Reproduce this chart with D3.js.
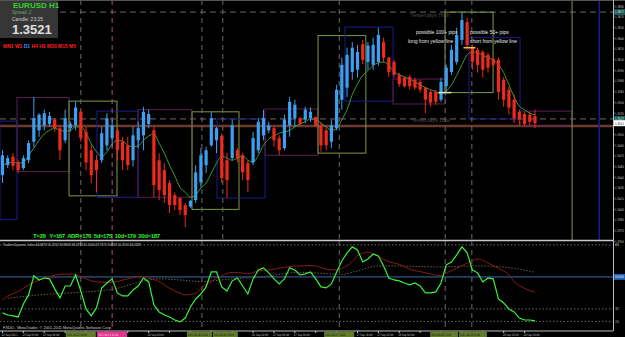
<!DOCTYPE html>
<html><head><meta charset="utf-8">
<script src="https://cdn.jsdelivr.net/npm/d3@7"></script>
<style>html,body{margin:0;padding:0;background:#000;overflow:hidden}svg{display:block}text{font-family:"Liberation Sans",Arial,sans-serif}text.n{font-family:"Liberation Sans Narrow","DejaVu Sans Condensed","Liberation Sans",sans-serif}</style>
</head><body><div id="chart"></div>
<script>
// ---------- DATA ----------
const opens=[1.3448,1.3462,1.3474,1.3466,1.3458,1.3469,1.3495,1.3511,1.3518,1.3520,
1.3526,1.3514,1.3497,1.3514,1.3518,1.3537,1.3509,1.3483,1.3469,1.3469,
1.3490,1.3500,1.3511,1.3495,1.3490,1.3469,1.3497,1.3504,1.3520,1.3511,
1.3469,1.3455,1.3437,1.3420,1.3416,1.3406,1.3404,1.3413,1.3438,1.3462,
1.3490,1.3497,1.3503,1.3469,1.3472,1.3483,1.3476,1.3465,1.3466,1.3483,
1.3504,1.3511,1.3514,1.3500,1.3486,1.3518,1.3528,1.3528,1.3526,1.3528,
1.3530,1.3518,1.3511,1.3495,1.3514,1.3554,1.3571,1.3593,1.3596,1.3632,
1.3607,1.3603,1.3607,1.3635,1.3613,1.3607,1.3589,1.3585,1.3586,1.3582,
1.3579,1.3571,1.3565,1.3565,1.3554,1.3573,1.3593,1.3607,1.3638,1.3663,
1.3627,1.3624,1.3621,1.3617,1.3611,1.3610,1.3582,1.3568,1.3554,1.3537,
1.3534,1.3533,1.3531];
const highs=[1.3483,1.3476,1.3479,1.3469,1.3476,1.3497,1.3558,1.3535,1.3540,1.3537,
1.3528,1.3518,1.3540,1.3523,1.3551,1.3540,1.3516,1.3490,1.3476,1.3516,
1.3535,1.3526,1.3514,1.3502,1.3502,1.3516,1.3523,1.3544,1.3540,1.3516,
1.3479,1.3465,1.3441,1.3424,1.3417,1.3409,1.3413,1.3462,1.3486,1.3488,
1.3537,1.3516,1.3507,1.3479,1.3526,1.3486,1.3479,1.3469,1.3509,1.3528,
1.3540,1.3523,1.3516,1.3504,1.3533,1.3558,1.3554,1.3530,1.3544,1.3543,
1.3530,1.3523,1.3518,1.3526,1.3575,1.3613,1.3627,1.3635,1.3631,1.3638,
1.3635,1.3641,1.3655,1.3641,1.3614,1.3610,1.3592,1.3586,1.3589,1.3585,
1.3582,1.3572,1.3568,1.3568,1.3585,1.3603,1.3631,1.3655,1.3676,1.3669,
1.3631,1.3627,1.3624,1.3620,1.3613,1.3613,1.3586,1.3572,1.3561,1.3540,
1.3537,1.3537,1.3540];
const lows=[1.3437,1.3458,1.3455,1.3451,1.3455,1.3465,1.3488,1.3502,1.3511,1.3516,
1.3509,1.3469,1.3493,1.3509,1.3511,1.3495,1.3455,1.3437,1.3424,1.3465,
1.3483,1.3488,1.3469,1.3455,1.3455,1.3460,1.3486,1.3483,1.3514,1.3417,
1.3413,1.3409,1.3395,1.3399,1.3392,1.3375,1.3402,1.3409,1.3431,1.3451,
1.3488,1.3479,1.3437,1.3416,1.3469,1.3466,1.3441,1.3424,1.3462,1.3479,
1.3497,1.3507,1.3488,1.3476,1.3483,1.3502,1.3516,1.3516,1.3521,1.3523,
1.3516,1.3481,1.3483,1.3486,1.3511,1.3540,1.3558,1.3582,1.3585,1.3604,
1.3596,1.3596,1.3602,1.3606,1.3586,1.3585,1.3572,1.3571,1.3568,1.3568,
1.3564,1.3535,1.3544,1.3547,1.3551,1.3565,1.3589,1.3603,1.3631,1.3624,
1.3596,1.3592,1.3585,1.3592,1.3600,1.3554,1.3544,1.3533,1.3521,1.3518,
1.3516,1.3518,1.3514];
const closes=[1.3476,1.3472,1.3461,1.3455,1.3472,1.3493,1.3528,1.3533,1.3535,1.3531,
1.3514,1.3483,1.3528,1.3520,1.3543,1.3500,1.3466,1.3448,1.3455,1.3507,
1.3528,1.3518,1.3483,1.3469,1.3462,1.3504,1.3514,1.3537,1.3534,1.3434,
1.3427,1.3420,1.3406,1.3406,1.3399,1.3392,1.3412,1.3452,1.3476,1.3483,
1.3528,1.3514,1.3444,1.3441,1.3518,1.3472,1.3452,1.3441,1.3500,1.3523,
1.3528,1.3518,1.3497,1.3483,1.3526,1.3551,1.3547,1.3520,1.3540,1.3537,
1.3518,1.3490,1.3490,1.3518,1.3568,1.3603,1.3617,1.3627,1.3621,1.3610,
1.3630,1.3631,1.3645,1.3613,1.3593,1.3589,1.3576,1.3573,1.3573,1.3571,
1.3568,1.3554,1.3550,1.3551,1.3579,1.3599,1.3624,1.3645,1.3666,1.3631,
1.3607,1.3603,1.3596,1.3599,1.3603,1.3565,1.3554,1.3543,1.3528,1.3526,
1.3520,1.3523,1.3521];
const maValues=[1.3462,1.3465,1.3466,1.3465,1.3466,1.3476,1.3486,1.3497,1.3506,1.3511,
1.3514,1.3511,1.3510,1.3511,1.3516,1.3516,1.3507,1.3492,1.3481,1.3474,
1.3481,1.3492,1.3497,1.3496,1.3490,1.3488,1.3489,1.3497,1.3503,1.3506,
1.3493,1.3479,1.3462,1.3447,1.3431,1.3424,1.3417,1.3420,1.3430,1.3437,
1.3451,1.3465,1.3475,1.3472,1.3469,1.3472,1.3475,1.3469,1.3466,1.3476,
1.3490,1.3499,1.3503,1.3507,1.3509,1.3511,1.3516,1.3520,1.3523,1.3527,
1.3526,1.3521,1.3516,1.3511,1.3513,1.3526,1.3540,1.3561,1.3576,1.3588,
1.3595,1.3602,1.3606,1.3607,1.3602,1.3593,1.3589,1.3586,1.3583,1.3579,
1.3575,1.3571,1.3568,1.3565,1.3562,1.3566,1.3575,1.3588,1.3603,1.3617,
1.3621,1.3620,1.3616,1.3613,1.3610,1.3603,1.3592,1.3575,1.3558,1.3545,
1.3540,1.3535,1.3533];
const tdiGreen=[29.8,28.6,28.1,27.5,34.8,39.9,50.6,48.3,49.4,48.9,
43.3,38.2,44.9,44.9,51.1,42.1,32.0,28.1,32.6,43.8,
46.6,48.9,41.0,39.3,39.3,42.7,44.9,49.4,47.2,34.3,
30.3,28.6,27.5,25.8,24.7,26.9,33.1,37.6,40.4,44.4,
52.8,52.8,44.4,42.1,47.8,49.4,44.9,40.4,48.9,53.9,
55.1,52.3,48.9,46.1,48.9,55.1,53.9,51.1,51.7,52.8,
48.9,44.4,43.8,46.1,52.8,59.0,63.5,66.9,65.2,58.4,
60.1,62.9,61.8,56.2,49.4,48.3,47.8,46.6,45.5,46.6,
44.9,41.0,41.0,41.6,46.6,56.8,58.4,62.4,66.9,63.5,
53.9,52.3,47.2,49.4,48.9,37.6,35.4,32.0,30.3,26.9,
25.8,25.8,25.3];
const tdiRedBars=[0,1,3,5,7,9,11,13,15,17,19,21,22,24,26,28,30,32,34,35,37,38,40,42,44,46,47,49,51,53,55,57,59,60,62,64,65,67,68,70,72,74,76,78,80,82,84,85,87,89,91,93,95,97,98,100,102];
const tdiRedVals=[37.1,39.3,41.7,45.5,48.3,50.2,51.5,51.7,50.2,47.8,47.0,47.0,47.4,48.9,50.0,49.3,47.4,43.6,40.8,39.9,40.8,43.6,47.4,50.7,52.6,52.1,51.7,53.4,53.9,54.9,55.8,56.2,56.4,56.2,54.3,53.9,54.9,58.6,61.8,63.9,61.4,58.6,57.1,54.3,53.0,51.7,50.6,52.1,54.9,57.7,60.1,57.7,54.9,51.1,47.4,43.6,41.4];
const tdiSlowBars=[1,7,15,22,26,30,34,38,44,49,57,65,68,72,76,80,84,88,91,95,99,102];
const tdiSlowVals=[38.0,39.9,41.4,43.6,47.0,48.9,48.3,47.4,48.9,49.8,52.6,51.5,53.4,56.2,56.2,55.8,55.6,56.0,56.2,55.8,54.3,52.6];
const tdiLevels=[68,50,32,25];
const priceTicks=[1.3685,1.3670,1.3655,1.3640,1.3625,1.3610,1.3595,1.3580,1.3565,1.3550,1.3535,1.3520,1.3505,1.3490,1.3475,1.3460,1.3445,1.3430,1.3415,1.3400,1.3385,1.3370,1.3355];
const timeLabelBars=[0,4,8,12,16,20,24,28,32,36,40,44,48,52,56,60,64,68,72,76,80,84,88,92,96,100];
const timeLabels=["22 Sep 2011","23 Sep 05:00","23 Sep 09:00","23 Sep 13:00","23 Sep 17:00","23 Sep 21:00","25 Sep 22:00","26 Sep 02:00","26 Sep 06:00","26 Sep 10:00","26 Sep 14:00","26 Sep 18:00","26 Sep 22:00","27 Sep 02:00","27 Sep 06:00","27 Sep 10:00","27 Sep 14:00","27 Sep 18:00","27 Sep 22:00","28 Sep 02:00","28 Sep 06:00","28 Sep 10:00","28 Sep 14:00","28 Sep 18:00","28 Sep 22:00","29 Sep 02:00"];
const markerBars=[15,21,38.2,42.2,64.5,84.8,89.9];
const markerLabels=["2011.09.23 16:00","2011.09.23 22:00","2011.09.26 12:00","2011.09.26 16:00","2011.09.27 14:00","2011.09.28 11:00","2011.09.28 16:00"];
const boxKinds=["blue","purple","green","blue","purple","green","blue","purple","green","blue","purple","green","blue","purple"];
const boxStart=[-0.48,2.78,12.74,18.1,25.96,36.3,41.09,50.29,60.44,65.61,74.81,84.77,89.37,99.14];
const boxEnd=[2.78,12.74,21.93,25.96,36.3,45.3,50.29,60.44,69.6,74.81,84.77,93.97,99.14,109.1];
const boxTop=[1.3524,1.3557,1.3552,1.3538,1.3540,1.3537,1.3527,1.3541,1.3644,1.3656,1.3583,1.3677,1.3641,1.3538];
const boxBottom=[1.3386,1.3453,1.3419,1.3417,1.3417,1.3400,1.3416,1.3476,1.3479,1.3552,1.3548,1.3564,1.3527,1.3517];
const yesterdayHigh=1.3677, yesterdayLow=1.3527, brownLevel=1.3517, bidPrice=1.3521;
const greenVLineBar=109.1, blueVLineBar=114.3;
const tfLabels=["MN1","W1","D1","H4","H1","M30","M15","M5"];

// ---------- SETUP ----------
const W=625,H=337, AX=613;
const svg=d3.select("#chart").append("svg").attr("width",W).attr("height",H).style("background","#000");
const x=d3.scaleLinear().domain([0,102]).range([2.5,535]);
const y=d3.scaleLinear().domain([1.3357,1.3694]).range([240,0]);
const ys=d3.scaleLinear().domain([24.1,70.2]).range([323,241]);
const defs=svg.append("defs");
defs.append("clipPath").attr("id","cm").append("rect").attr("x",0).attr("y",0).attr("width",AX).attr("height",240);
defs.append("clipPath").attr("id","cs").append("rect").attr("x",0).attr("y",241).attr("width",AX).attr("height",90);
const main=svg.append("g").attr("clip-path","url(#cm)");
const sub=svg.append("g").attr("clip-path","url(#cs)");

// horizontal levels
[yesterdayHigh,yesterdayLow].forEach(p=>{
  main.append("line").attr("x1",0).attr("x2",AX).attr("y1",y(p)).attr("y2",y(p)).attr("stroke","#6a6a6a").attr("stroke-dasharray","6,4").attr("stroke-width",1);
});
main.append("line").attr("x1",0).attr("x2",AX).attr("y1",y(brownLevel)).attr("y2",y(brownLevel)).attr("stroke","#6b3a2c").attr("stroke-width",2.5);
main.append("text").attr("x",410).attr("y",y(yesterdayHigh)+5).attr("font-size",5.5).attr("fill","#4a4a4a").text("Yesterdays High");
main.append("text").attr("x",411).attr("y",y(yesterdayLow)+3.5).attr("font-size",5.5).attr("fill","#4a4a4a").text("Yesterdays Low");

// boxes
const boxColor={blue:"#1c1c8a",purple:"#5a1f55",green:"#7f9a45"};
boxKinds.forEach((k,i)=>{
  main.append("rect").attr("x",x(boxStart[i])).attr("y",y(boxTop[i]))
    .attr("width",x(boxEnd[i])-x(boxStart[i])).attr("height",y(boxBottom[i])-y(boxTop[i]))
    .attr("fill","none").attr("stroke",boxColor[k]).attr("stroke-width",1);
});

// vertical lines
markerBars.forEach((b,i)=>{
  const col = i===1 ? "#b0507a" : "#6a6a6a";
  main.append("line").attr("x1",x(b)).attr("x2",x(b)).attr("y1",0).attr("y2",240).attr("stroke",col).attr("stroke-dasharray","5,4");
  if(i!==3) sub.append("line").attr("x1",x(b)).attr("x2",x(b)).attr("y1",241).attr("y2",331).attr("stroke",col).attr("stroke-dasharray","5,4");
});
main.append("line").attr("x1",x(greenVLineBar)).attr("x2",x(greenVLineBar)).attr("y1",0).attr("y2",240).attr("stroke","#7f9a45");
main.append("line").attr("x1",x(blueVLineBar)).attr("x2",x(blueVLineBar)).attr("y1",0).attr("y2",240).attr("stroke","#1c1c8a").attr("stroke-width",1.5);

// MA line
main.append("path").datum(maValues).attr("fill","none").attr("stroke","#3a9a3a").attr("stroke-width",1)
  .attr("d",d3.line().x((d,i)=>x(i)).y(d=>y(d)).curve(d3.curveMonotoneX));

// candles
const up="#3d9fef", dn="#ee2a1e";
const cg=main.append("g");
opens.forEach((o,i)=>{
  const c=closes[i], col=c>=o?up:dn;
  cg.append("line").attr("x1",x(i)).attr("x2",x(i)).attr("y1",y(highs[i])).attr("y2",y(lows[i])).attr("stroke",col).attr("stroke-width",1);
  const t=y(Math.max(o,c)), b=y(Math.min(o,c));
  cg.append("rect").attr("x",x(i)-1.6).attr("y",t).attr("width",3.2).attr("height",Math.max(1,b-t)).attr("fill",col);
});

// markers on "yellow lines"
main.append("line").attr("x1",x(83.5)).attr("x2",x(86)).attr("y1",y(1.3564)).attr("y2",y(1.3564)).attr("stroke","#d8e8a0").attr("stroke-width",1.5);
main.append("line").attr("x1",x(88.3)).attr("x2",x(90.6)).attr("y1",y(1.3627)).attr("y2",y(1.3627)).attr("stroke","#f0c040").attr("stroke-width",1.5);

// annotations
const ann=[["possible 100+ pips",416,34],["long from yellow line",408,43],["possible 50+ pips",470,34],["short from yellow line",470,43]];
ann.forEach(a=>main.append("text").attr("x",a[1]).attr("y",a[2]).attr("font-size",5).attr("fill","#e8e8e8").text(a[0]));

// info panel
svg.append("rect").attr("x",0).attr("y",0).attr("width",58).attr("height",38).attr("fill","#363636");
svg.append("text").attr("x",13).attr("y",8).attr("font-size",8).attr("font-weight","bold").attr("fill","#2fd12f").text("EURUSD  H1");
svg.append("text").attr("x",12).attr("y",13.5).attr("font-size",4.5).attr("fill","#6aa86a").text("Spread: 2");
svg.append("text").attr("x",12).attr("y",21).attr("font-size",5).attr("fill","#cfcfcf").text("Candle: 23:25");
svg.append("text").attr("x",12).attr("y",34).attr("font-size",13).attr("font-weight","bold").attr("fill","#e0e0e0").text(bidPrice.toFixed(4));
const tf=svg.append("text").attr("x",3).attr("y",48).attr("font-size",5).attr("font-weight","bold");
tfLabels.forEach((l,i)=>tf.append("tspan").attr("fill",l==="D1"?"#3a8cff":"#ff2020").text((i?" ":"")+l));
tf.attr("textLength",73).attr("lengthAdjust","spacing");
svg.append("text").attr("x",33).attr("y",237.5).attr("font-size",6).attr("font-weight","bold").attr("fill","#33ee33")
  .attr("textLength",127).attr("lengthAdjust","spacing").attr("xml:space","preserve").text("T=28   Y=167  ADR=176  5d=175  10d=179  20d=187");

// separators & axes
svg.append("line").attr("x1",0).attr("x2",W).attr("y1",0.5).attr("y2",0.5).attr("stroke","#555");
svg.append("line").attr("x1",0).attr("x2",AX).attr("y1",240.5).attr("y2",240.5).attr("stroke","#c8c8c8").attr("stroke-width",1.5);
svg.append("line").attr("x1",AX+0.5).attr("x2",AX+0.5).attr("y1",0).attr("y2",331).attr("stroke","#bdbdbd");
svg.append("line").attr("x1",0).attr("x2",AX).attr("y1",331).attr("y2",331).attr("stroke","#bdbdbd");

// price axis
const pa=svg.append("g");
function axisText(g,xx,yy,txt,col){
  return g.append("text").attr("class","n").attr("x",xx).attr("y",yy).attr("font-size",3.6).attr("fill",col)
    .attr("textLength",9).attr("lengthAdjust","spacingAndGlyphs").text(txt);
}
priceTicks.forEach(p=>{
  pa.append("line").attr("x1",AX).attr("x2",AX+1.5).attr("y1",y(p)).attr("y2",y(p)).attr("stroke","#bdbdbd");
  axisText(pa,AX+2,y(p)+1.3,p.toFixed(4),"#c0c0c0");
});
function tag(p,fill,txtCol){
  pa.append("rect").attr("x",AX+1).attr("y",y(p)-3).attr("width",11).attr("height",6).attr("fill",fill);
  axisText(pa,AX+2,y(p)+1.3,p.toFixed(4),txtCol);
}
tag(yesterdayHigh,"#1f5656","#cfe");
tag(yesterdayLow,"#1f5656","#cfe");
tag(bidPrice,"#ffffff","#000");

// sub window
sub.append("text").attr("x",3).attr("y",246).attr("font-size",3.8).attr("fill","#dddddd").attr("textLength",138).attr("lengthAdjust","spacingAndGlyphs")
  .text("Traders Dynamic Index 44.6873 50.2552 39.8549 38.4733 41.4200 47.7671 9.6829 50.2150 34.2439");
tdiLevels.forEach(v=>{
  if(v===50) sub.append("line").attr("x1",0).attr("x2",AX).attr("y1",ys(v)).attr("y2",ys(v)).attr("stroke","#3d6aa8").attr("stroke-width",1);
  else sub.append("line").attr("x1",0).attr("x2",AX).attr("y1",ys(v)).attr("y2",ys(v)).attr("stroke","#6a6a6a").attr("stroke-dasharray","1.5,2");
});
sub.append("path").datum(tdiSlowBars.map((b,i)=>[b,tdiSlowVals[i]])).attr("fill","none").attr("stroke","#6a5a48").attr("stroke-dasharray","1.5,1.5")
  .attr("d",d3.line().x(d=>x(d[0])).y(d=>ys(d[1])).curve(d3.curveMonotoneX));
sub.append("path").datum(tdiRedBars.map((b,i)=>[b,tdiRedVals[i]])).attr("fill","none").attr("stroke","#8a1a1a").attr("stroke-width",1)
  .attr("d",d3.line().x(d=>x(d[0])).y(d=>ys(d[1])).curve(d3.curveMonotoneX));
sub.append("path").datum(tdiGreen).attr("fill","none").attr("stroke","#3cf03c").attr("stroke-width",1.2)
  .attr("d",d3.line().x((d,i)=>x(i)).y(d=>ys(d)));
sub.append("text").attr("x",3).attr("y",329).attr("font-size",4.3).attr("fill","#cfcfcf").attr("textLength",109).attr("lengthAdjust","spacingAndGlyphs")
  .text("FXDD - MetaTrader, \u00a9 2001-2011 MetaQuotes Software Corp.");
tdiLevels.forEach(v=>{
  if(v===50){
    svg.append("rect").attr("x",AX+1).attr("y",ys(v)-3).attr("width",11).attr("height",6).attr("fill","#1e5fb0");
    axisText(svg,AX+2,ys(v)+1.3,"50.000","#fff");
  } else {
    svg.append("text").attr("class","n").attr("x",AX+2).attr("y",ys(v)+1.3).attr("font-size",3.6).attr("fill","#c0c0c0").text(v);
  }
});

// time axis: marker label extents (clamped so neighbours don't overlap)
const mx=markerBars.map(b=>x(b));
const mExt=mx.map((c,i)=>{
  let l=c-15, r=c+15;
  if(i>0 && c-mx[i-1]<30) l=(c+mx[i-1])/2+0.5;
  if(i<mx.length-1 && mx[i+1]-c<30) r=(c+mx[i+1])/2-0.5;
  return [l,r];
});
timeLabelBars.forEach((b,i)=>{
  const lx=x(b)-1, rx=lx+19;
  const covered=mExt.some(e=>rx>e[0] && lx<e[1]);
  svg.append("line").attr("x1",x(b)).attr("x2",x(b)).attr("y1",331).attr("y2",333).attr("stroke","#bdbdbd");
  if(!covered) svg.append("text").attr("class","n").attr("x",lx).attr("y",336.3).attr("font-size",3.2).attr("fill","#c0c0c0")
    .attr("textLength",16).attr("lengthAdjust","spacingAndGlyphs").text(timeLabels[i]);
});
markerBars.forEach((b,i)=>{
  const pink=i===1, e=mExt[i], w=e[1]-e[0];
  svg.append("rect").attr("x",e[0]).attr("y",331.5).attr("width",w).attr("height",5.5).attr("fill",pink?"#e0358f":"#617d2c");
  svg.append("text").attr("class","n").attr("x",e[0]+1).attr("y",336.2).attr("font-size",3.1).attr("fill",pink?"#fde":"#111")
    .attr("textLength",Math.min(w-2,20)).attr("lengthAdjust","spacingAndGlyphs").text(markerLabels[i]);
});
</script></body></html>
